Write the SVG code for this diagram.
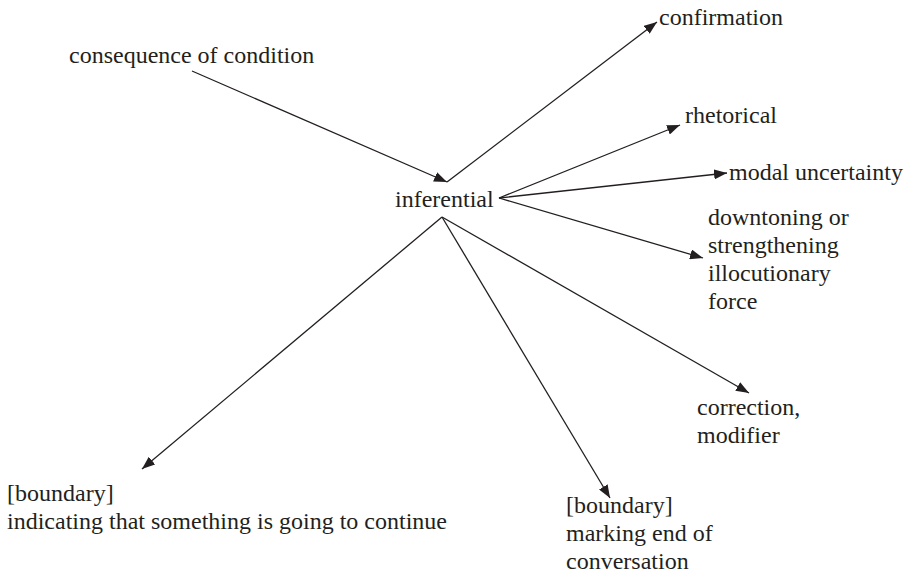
<svg xmlns="http://www.w3.org/2000/svg" width="913" height="579" viewBox="0 0 913 579">
<style>
text{font-family:"Liberation Serif","Times New Roman",serif;font-size:24px;fill:#231f20}
.c line{stroke:#231f20;stroke-width:1.3;marker-end:url(#ah)}
</style>
<defs>
<marker id="ah" markerUnits="userSpaceOnUse" markerWidth="14" markerHeight="10" refX="13" refY="5" orient="auto">
<path d="M0,0 L13,5 L0,10 Z" fill="#231f20"/>
</marker>
</defs>
<rect width="913" height="579" fill="#fff"/>
<g class="c" id="connectors">
<line x1="192" y1="71" x2="447" y2="182"/>
<line x1="447" y1="182" x2="657" y2="22"/>
<line x1="499" y1="198" x2="680" y2="125"/>
<line x1="499" y1="198" x2="727" y2="173"/>
<line x1="499" y1="198" x2="703" y2="258"/>
<line x1="442" y1="217" x2="749" y2="393"/>
<line x1="442" y1="217" x2="610" y2="498"/>
<line x1="442" y1="217" x2="142" y2="469"/>
</g>
<g id="n-consequence"><text x="69" y="63">consequence of condition</text></g>
<g id="n-inferential"><text x="395" y="207">inferential</text></g>
<g id="n-confirmation"><text x="659" y="25">confirmation</text></g>
<g id="n-rhetorical"><text x="685" y="123">rhetorical</text></g>
<g id="n-modal"><text x="729" y="180">modal uncertainty</text></g>
<g id="n-downtoning"><text x="708" y="225">downtoning or</text><text x="708" y="253">strengthening</text><text x="708" y="281">illocutionary</text><text x="708" y="309">force</text></g>
<g id="n-correction"><text x="697" y="415">correction,</text><text x="697" y="443">modifier</text></g>
<g id="n-end"><text x="566" y="513">[boundary]</text><text x="566" y="541">marking end of</text><text x="566" y="569">conversation</text></g>
<g id="n-continue"><text x="7" y="501">[boundary]</text><text x="7" y="529">indicating that something is going to continue</text></g>
</svg>
